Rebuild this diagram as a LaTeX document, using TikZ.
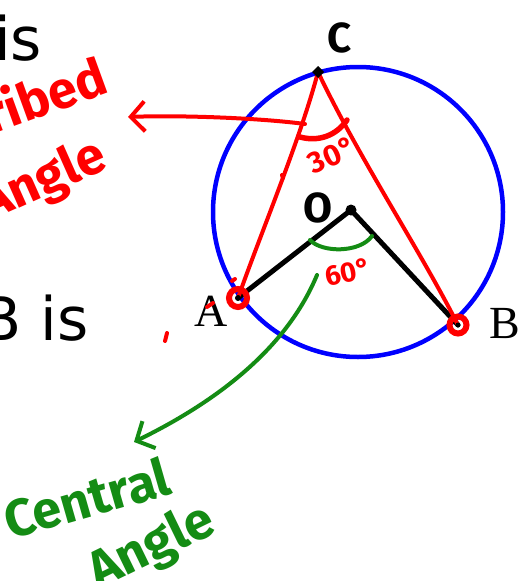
\documentclass[tikz,border=0pt]{standalone}
\usepackage{fontspec}
\setmainfont{Liberation Serif}
\newfontfamily\handfont{Fira Sans}
\newfontfamily\bigfont{DejaVu Sans}
\usetikzlibrary{arrows.meta}
\definecolor{pen red}{RGB}{255,0,0}
\definecolor{pen blue}{RGB}{0,0,255}
\definecolor{pen green}{RGB}{20,140,20}
\tikzset{
  redpen/.style={draw=pen red, line width=4pt, line cap=round, line join=round},
  greenpen/.style={draw=pen green, line width=4pt, line cap=round, line join=round},
  blackpen/.style={draw=black, line width=5pt, line cap=round},
  bigtext/.style={font=\bigfont\fontsize{60}{62}\selectfont, inner sep=0pt, anchor=base west},
  hand/.style={font=\handfont\bfseries\fontsize{#1}{#1}\selectfont, inner sep=0pt},
  serif/.style={font=\fontsize{46}{48}\selectfont, inner sep=0pt, anchor=base west},
  barb/.style={-{Straight Barb[length=14pt,width=30pt,line width=4pt]}},
}
\begin{document}
\begin{tikzpicture}[x=1pt,y=-1pt]
\useasboundingbox (0,0) rectangle (517,581);
\fill[white] (0,0) rectangle (517,581);

% points
\coordinate (C) at (318,72);
\coordinate (A) at (238,298);
\coordinate (B) at (458,325);
\coordinate (O) at (351,210);
\coordinate (ctr) at (358,212);

% black text
\node[bigtext] (is1) at (-6,60) {is};
\node[bigtext] (bis) at (-20,340) {B is};

% circle
\draw[pen blue, line width=4.5pt] (ctr) circle[radius=145];

% radii
\draw[blackpen] (A) -- (O) -- (B);
\fill (O) circle[radius=5.5];

% inscribed angle sides
\draw[redpen] (C) .. controls (300,140) and (262,230) .. (A);
\draw[redpen] (C) .. controls (360,160) and (420,250) .. (B);

% C dot
\fill (C) ++(0,-6) -- ++(6,6) -- ++(-6,6) -- ++(-6,-6) -- cycle;

% red circles at A and B
\draw[pen red, line width=6pt] (A) circle[radius=9];
\fill (A) circle[radius=3];
\draw[pen red, line width=6pt] (B) circle[radius=8.5];
\fill (B) circle[radius=2.5];

% angle arcs
\draw[redpen, line width=5.5pt] (300,137) .. controls (318,142) and (336,136) .. (347,120);
\draw[greenpen] (310,240) .. controls (322,253) and (360,253) .. (372,236);

% angle labels
\node[hand=30, text=pen red, rotate=24] (thirty) at (332,155) {30°};
\node[hand=28, text=pen red, rotate=12] (sixty) at (348,272) {60°};

% point labels
\node[hand=42] (lC) at (340,38) {C};
\node[hand=42] (lO) at (318,208) {O};
\node[serif] (lA) at (194,326) {A};
\node[serif] (lB) at (489,338) {B};

% red annotation
\coordinate (rstart) at (305,124);
\node[hand=52, text=pen red, rotate=20, anchor=base west] (ribed) at (-8,135) {ribed};
\node[hand=52, text=pen red, rotate=24, anchor=base west] (angle1) at (-12,222) {Angle};
\draw[redpen, barb] (rstart) .. controls (260,118) and (180,115) .. (128,117);

% green annotation
\coordinate (gstart) at (317,275);
\draw[greenpen, barb] (gstart) .. controls (290,340) and (230,395) .. (134,442);
\node[hand=52, text=pen green, rotate=16, anchor=base west] (central) at (10,540) {Central};
\node[hand=52, text=pen green, rotate=26, anchor=base west] (angle2) at (98,590) {Angle};

% stray red marks
\draw[redpen] (167,333) -- (165,341);
\draw[redpen] (282,175) -- (283,178);
\draw[redpen] (232,281) -- (235,279);
\draw[redpen] (207,307) -- (213,303);
\end{tikzpicture}
\end{document}
